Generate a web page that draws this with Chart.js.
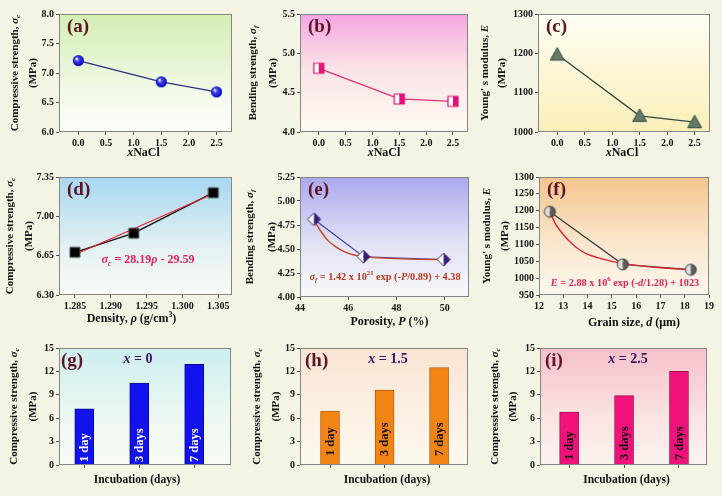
<!DOCTYPE html>
<html>
<head>
<meta charset="utf-8">
<script src="https://cdn.jsdelivr.net/npm/chart.js@4.4.1/dist/chart.umd.min.js"></script>
<style>
  body { margin: 0; background: #f4f4e4; }
  #wrap { position: relative; width: 722px; height: 496px; overflow: hidden; background: #f4f4e4; }
  #wrap canvas { position: absolute; }
</style>
</head>
<body>
<div id="wrap"></div>
<script>
// ---- data ----
const xNaCl = [0, 1.5, 2.5];
const compStrength = [7.21, 6.85, 6.68];
const bendStrength = [4.81, 4.42, 4.39];
const youngMod = [1197, 1041, 1025];
const density = [1.3043, 1.2932, 1.2850];
const porosity = [44.58, 46.63, 49.95];
const grainSize = [12.45, 15.45, 18.25];

// fitted curves
const densFitX = [1.2850, 1.3043];
const densFitY = [6.66, 7.20];
const porFitX = [44.58, 44.85, 45.15, 45.5, 45.85, 46.2, 46.63, 47.5, 48.5, 49.95];
const porFitY = [4.80, 4.69, 4.59, 4.52, 4.47, 4.44, 4.42, 4.405, 4.395, 4.39];
const grainFitX = [12.45, 12.66, 12.95, 13.2, 13.5, 13.9, 14.6, 15.25, 16, 17, 18.25];
const grainFitY = [1198, 1163, 1134, 1113, 1093, 1074, 1057, 1046, 1038, 1031, 1025];

const days = ["1 day", "3 days", "7 days"];
const dayPos = [1, 2, 3];
const incubX0 = [7.2, 10.5, 12.9];
const incubX15 = [6.9, 9.6, 12.5];
const incubX25 = [6.8, 8.9, 12.0];

// tick labels
const ticksNaCl = [0, 0.5, 1, 1.5, 2, 2.5];
const ticksA = [6.0, 6.5, 7.0, 7.5, 8.0];
const ticksB = [4.0, 4.5, 5.0, 5.5];
const ticksC = [1000, 1100, 1200, 1300];
const ticksDx = [1.285, 1.290, 1.295, 1.300, 1.305];
const ticksDy = [6.30, 6.65, 7.00, 7.35];
const ticksEx = [44, 46, 48, 50];
const ticksEy = [4.00, 4.25, 4.50, 4.75, 5.00, 5.25];
const ticksFx = [12, 13, 14, 15, 16, 17, 18, 19];
const ticksFy = [950, 1000, 1050, 1100, 1150, 1200, 1250, 1300];
const ticksBar = [0, 3, 6, 9, 12, 15];

const FONT = '"Liberation Serif", "Times New Roman", serif';

function xy(xs, ys) {
  return xs.map((x, i) => ({ x: x, y: ys[i] }));
}

// ---- rich text (italic / sub / sup pieces) ----
function segFont(f, size) {
  const sz = (f.includes("_") || f.includes("^")) ? size * 0.65 : size;
  return (f.includes("i") ? "italic " : "") + "bold " + sz + "px " + FONT;
}
function drawRich(ctx, segs, x, y, size, color, align) {
  let w = 0;
  segs.forEach(s => { ctx.font = segFont(s[1] || "", size); w += ctx.measureText(s[0]).width; });
  let cx = align === "left" ? x : x - w / 2;
  ctx.fillStyle = color;
  ctx.textAlign = "left";
  ctx.textBaseline = "middle";
  segs.forEach(s => {
    const f = s[1] || "";
    ctx.font = segFont(f, size);
    let dy = 0;
    if (f.includes("_")) dy = size * 0.3;
    if (f.includes("^")) dy = -size * 0.35;
    ctx.fillText(s[0], cx, y + dy);
    cx += ctx.measureText(s[0]).width;
  });
}

// ---- marker pictures ----
function mk(shape, s, fillL, fillR, stroke, lw) {
  const c = document.createElement("canvas");
  const n = s + 4;
  c.width = n; c.height = n;
  const g = c.getContext("2d");
  const m = n / 2, r = s / 2;
  g.beginPath();
  if (shape === "square") g.rect(m - r, m - r, s, s);
  else if (shape === "diamond") { g.moveTo(m, m - r); g.lineTo(m + r, m); g.lineTo(m, m + r); g.lineTo(m - r, m); g.closePath(); }
  else if (shape === "tri") { g.moveTo(m, m - r); g.lineTo(m + r, m + r * 0.8); g.lineTo(m - r, m + r * 0.8); g.closePath(); }
  else g.arc(m, m, r, 0, Math.PI * 2);
  g.save();
  g.clip();
  g.fillStyle = fillL; g.fillRect(0, 0, m, n);
  g.fillStyle = fillR; g.fillRect(m, 0, n - m, n);
  g.restore();
  g.lineWidth = lw; g.strokeStyle = stroke; g.stroke();
  return c;
}
function ball(s) {
  const c = document.createElement("canvas");
  const n = s + 2;
  c.width = n; c.height = n;
  const g = c.getContext("2d");
  const m = n / 2;
  const rg = g.createRadialGradient(m - 2, m - 2, 0.5, m, m, s / 2);
  rg.addColorStop(0, "#ffffff");
  rg.addColorStop(0.3, "#4a4aff");
  rg.addColorStop(1, "#0000b0");
  g.beginPath(); g.arc(m, m, s / 2, 0, Math.PI * 2);
  g.fillStyle = rg; g.fill();
  return c;
}

// ---- plugin: plot background, frame and the texts ----
const deco = {
  id: "deco",
  beforeDatasetsDraw(chart, args, o) {
    const a = chart.chartArea, ctx = chart.ctx;
    const gr = ctx.createLinearGradient(0, a.top, 0, a.bottom);
    o.grad.forEach(st => gr.addColorStop(st[0], st[1]));
    ctx.save();
    ctx.fillStyle = gr;
    ctx.fillRect(a.left, a.top, a.right - a.left, a.bottom - a.top);
    ctx.restore();
  },
  afterDraw(chart, args, o) {
    const a = chart.chartArea, ctx = chart.ctx;
    ctx.save();
    ctx.strokeStyle = "#858585";
    ctx.lineWidth = 1;
    ctx.strokeRect(a.left + 0.5, a.top + 0.5, a.right - a.left - 1, a.bottom - a.top - 1);

    // panel letter
    drawRich(ctx, [[o.letter]], a.left + o.lx, a.top + 13, 19, "#5e1424", "left");

    // y title, two lines, rotated
    const midY = (a.top + a.bottom) / 2;
    o.yt.forEach((segs, i) => {
      ctx.save();
      ctx.translate(a.left + o.ytx[i], midY);
      ctx.rotate(-Math.PI / 2);
      drawRich(ctx, segs, 0, 0, 11, "#111", "center");
      ctx.restore();
    });

    // x title
    drawRich(ctx, o.xt, (a.left + a.right) / 2 + o.xtx, a.bottom + o.xty, o.xts || 12, "#111", "center");

    // notes inside the plot
    (o.notes || []).forEach(n => {
      drawRich(ctx, n.segs, a.left + n.dx, a.top + n.dy, n.size, n.color, "center");
    });

    // labels written inside the bars
    if (o.bars) {
      const meta = chart.getDatasetMeta(0);
      meta.data.forEach((el, i) => {
        ctx.save();
        ctx.translate(el.x, a.bottom - o.bars.off);
        ctx.rotate(-Math.PI / 2);
        drawRich(ctx, [[o.bars.labels[i]]], 0, 0.5, 12.5, o.bars.color, "left");
        ctx.restore();
      });
    }
    ctx.restore();
  }
};
Chart.register(deco);

function axis(a, id, size) {
  return {
    type: "linear",
    position: id === "x" ? "bottom" : "left",
    min: a.min,
    max: a.max,
    offset: false,
    grid: { display: true, offset: false, drawOnChartArea: false, drawTicks: true, tickLength: 3, color: "#555", tickColor: "#555" },
    border: { display: false },
    ticks: {
      display: a.labels !== false,
      color: "#151515",
      padding: 2,
      maxRotation: 0,
      autoSkip: false,
      font: { family: FONT, weight: "bold", size: 10 },
      callback: v => v.toFixed(a.dec)
    },
    afterBuildTicks: s => { s.ticks = a.ticks.map(v => ({ value: v })); },
    afterFit: s => { if (id === "x") s.height = size; else s.width = size; }
  };
}

function panel(p) {
  const [L, T, W, H] = p.box;
  const [cl, ct, cr, cb] = p.area;
  const cv = document.createElement("canvas");
  cv.width = W; cv.height = H;
  cv.style.left = L + "px";
  cv.style.top = T + "px";
  document.getElementById("wrap").appendChild(cv);
  return new Chart(cv, {
    type: p.type || "line",
    data: { datasets: p.datasets },
    options: {
      responsive: false,
      animation: false,
      devicePixelRatio: 1,
      layout: { padding: { top: ct - T, right: L + W - cr, left: 0, bottom: 0 } },
      plugins: { legend: { display: false }, tooltip: { enabled: false }, deco: p.deco },
      scales: {
        x: axis(p.x, "x", T + H - cb),
        y: axis(p.y, "y", cl - L)
      }
    }
  });
}

// canvas boxes
const col = [[0, 246], [238, 246], [476, 246]];
const row = [[0, 166], [162, 168], [326, 170]];
function box(c, r) { return [col[c][0], row[r][0], col[c][1], row[r][1]]; }

const ytComp = [[["Compressive strength, "], ["σ", "i"], ["c", "i_"]], [["(MPa)"]]];
const ytBend = [[["Bending strength, "], ["σ", "i"], ["f", "i_"]], [["(MPa)"]]];
const ytYoung = [[["Young' s modulus, "], ["E", "i"]], [["(MPa)"]]];
const xtNaCl = [["x", "i"], ["NaCl"]];

function lineSet(data, color, width, img) {
  return {
    data: data, borderColor: color, borderWidth: width, tension: 0,
    pointStyle: img || false, pointRadius: img ? 6 : 0, showLine: true
  };
}
function markSet(data, img) {
  return { data: data, showLine: false, pointStyle: img, pointRadius: 6, borderWidth: 0 };
}
function curveSet(data, color, width) {
  return { data: data, borderColor: color, borderWidth: width, pointRadius: 0, cubicInterpolationMode: "monotone" };
}

// (a)
panel({
  box: box(0, 0), area: [59, 14, 232, 132],
  x: { min: -0.35, max: 2.78, ticks: ticksNaCl, dec: 1 },
  y: { min: 6, max: 8, ticks: ticksA, dec: 1 },
  datasets: [lineSet(xy(xNaCl, compStrength), "#2e2e8e", 1.4, ball(11))],
  deco: { letter: "(a)", lx: 8, grad: [[0, "#d3eeb2"], [0.75, "#f6fbef"], [1, "#fdfefb"]],
          yt: ytComp, ytx: [-44, -26], xt: xtNaCl, xtx: -2, xty: 21 }
});
// (b)
panel({
  box: box(1, 0), area: [300, 14, 468, 132],
  x: { min: -0.35, max: 2.78, ticks: ticksNaCl, dec: 1 },
  y: { min: 4, max: 5.5, ticks: ticksB, dec: 1 },
  datasets: [lineSet(xy(xNaCl, bendStrength), "#e63272", 1.3, mk("square", 10, "#ffffff", "#e6107a", "#d8106e", 1.2))],
  deco: { letter: "(b)", lx: 8, grad: [[0, "#f6a4e2"], [0.45, "#fbe2e6"], [1, "#fdfbf1"]],
          yt: ytBend, ytx: [-47, -27], xt: xtNaCl, xtx: 0, xty: 21 }
});
// (c)
panel({
  box: box(2, 0), area: [538, 14, 710, 132],
  x: { min: -0.35, max: 2.78, ticks: ticksNaCl, dec: 1 },
  y: { min: 1000, max: 1300, ticks: ticksC, dec: 0 },
  datasets: [lineSet(xy(xNaCl, youngMod), "#2c4a3c", 1.3, mk("tri", 14, "#617a6a", "#617a6a", "#3a4c40", 1))],
  deco: { letter: "(c)", lx: 8, grad: [[0, "#fffef6"], [0.5, "#fdf6d6"], [1, "#fbefb8"]],
          yt: ytYoung, ytx: [-53, -36], xt: xtNaCl, xtx: -2, xty: 21 }
});
// (d)
panel({
  box: box(0, 1), area: [59, 177, 232, 295],
  x: { min: 1.28277, max: 1.30691, ticks: ticksDx, dec: 3 },
  y: { min: 6.30, max: 7.35, ticks: ticksDy, dec: 2 },
  datasets: [
    markSet(xy(density, compStrength), mk("square", 10, "#000000", "#000000", "#555555", 1)),
    curveSet(xy(densFitX, densFitY), "#e8202c", 1.1),
    lineSet(xy(density, compStrength), "#111111", 1.4)
  ],
  deco: { letter: "(d)", lx: 8, grad: [[0, "#a6d7ef"], [0.6, "#e4f1f3"], [1, "#f9fbf5"]],
          yt: ytComp, ytx: [-49, -30], xt: [["Density, "], ["ρ", "i"], [" (g/cm"], ["3", "^"], [")"]], xtx: -14, xty: 24,
          notes: [{ segs: [["σ", "i"], ["c", "i_"], [" = 28.19"], ["ρ", "i"], [" - 29.59"]], dx: 89, dy: 83, size: 12, color: "#e6205a" }] }
});
// (e)
panel({
  box: box(1, 1), area: [300, 177, 469, 297],
  x: { min: 44, max: 51, ticks: ticksEx, dec: 0 },
  y: { min: 4, max: 5.25, ticks: ticksEy, dec: 2 },
  datasets: [
    markSet(xy(porosity, bendStrength), mk("diamond", 13, "#ffffff", "#3a1c80", "#3a2a66", 1)),
    curveSet(xy(porFitX, porFitY), "#c8461e", 1.4),
    lineSet(xy(porosity, bendStrength), "#3c3caa", 1.1)
  ],
  deco: { letter: "(e)", lx: 8, grad: [[0, "#aaa8ee"], [0.55, "#e2e2f6"], [1, "#f9f9fb"]],
          yt: ytBend, ytx: [-50, -28], xt: [["Porosity, "], ["P", "i"], [" (%)"]], xtx: 5, xty: 25,
          notes: [{ segs: [["σ", "i"], ["f", "i_"], [" = 1.42 x 10"], ["21", "^"], [" exp (-"], ["P", "i"], ["/0.89) + 4.38"]], dx: 85, dy: 100, size: 10.3, color: "#b8381c" }] }
});
// (f)
panel({
  box: box(2, 1), area: [539, 177, 709, 295],
  x: { min: 12, max: 19, ticks: ticksFx, dec: 0 },
  y: { min: 950, max: 1300, ticks: ticksFy, dec: 0 },
  datasets: [
    markSet(xy(grainSize, youngMod), mk("circle", 11, "#dcdcdc", "#5a5a5a", "#3a3a3a", 1)),
    curveSet(xy(grainFitX, grainFitY), "#e2203a", 1.4),
    lineSet(xy(grainSize, youngMod), "#3e3e3e", 1.2)
  ],
  deco: { letter: "(f)", lx: 8, grad: [[0, "#f4c48c"], [0.55, "#fae6cc"], [1, "#fdf9ef"]],
          yt: ytYoung, ytx: [-52, -34], xt: [["Grain size, "], ["d", "i"], [" (μm)"]], xtx: 10, xty: 28,
          notes: [{ segs: [["E", "i"], [" = 2.88 x 10"], ["6", "^"], [" exp (-"], ["d", "i"], ["/1.28) + 1023"]], dx: 86, dy: 106, size: 10.3, color: "#e6205a" }] }
});

// bar panels
function barPanel(c, area, xmin, xmax, values, fill, edge, letter, lx, grad, ytx, xtx, label, labelDx, txtColor, off) {
  panel({
    type: "bar",
    box: box(c, 2), area: area,
    x: { min: xmin, max: xmax, ticks: dayPos, dec: 0, labels: false },
    y: { min: 0, max: 15, ticks: ticksBar, dec: 0 },
    datasets: [{ data: xy(dayPos, values), backgroundColor: fill, borderColor: edge, borderWidth: 1, barThickness: 19 }],
    deco: { letter: letter, lx: lx, grad: grad, yt: ytComp, ytx: ytx,
            xt: [["Incubation (days)"]], xtx: xtx, xty: 15, xts: 11.5,
            notes: [{ segs: [["x", "i"], [" = " + label]], dx: labelDx, dy: 11, size: 14, color: "#3b1566" }],
            bars: { labels: days, color: txtColor, off: off } }
  });
}
barPanel(0, [59, 348, 231, 465], 0.54, 3.67, incubX0, "#1212ee", "#0a0a90", "(g)", 2,
  [[0, "#cdeef0"], [0.6, "#eef8f2"], [1, "#f8fbf3"]], [-45, -26], -8, "0", 79, "#ffffff", 3);
barPanel(1, [300, 348, 468, 465], 0.45, 3.53, incubX15, "#f28414", "#b85c10", "(h)", 5,
  [[0, "#fbe4d4"], [0.6, "#fbf1e4"], [1, "#fcf8ee"]], [-43, -24], 3, "1.5", 88, "#111111", 9);
barPanel(2, [540, 348, 707, 465], 0.47, 3.51, incubX25, "#f0127a", "#a0084c", "(i)", 5,
  [[0, "#f5c0ca"], [0.6, "#fae4e2"], [1, "#fcf4ee"]], [-45, -27], 3, "2.5", 88, "#111111", 5);
</script>
</body>
</html>
